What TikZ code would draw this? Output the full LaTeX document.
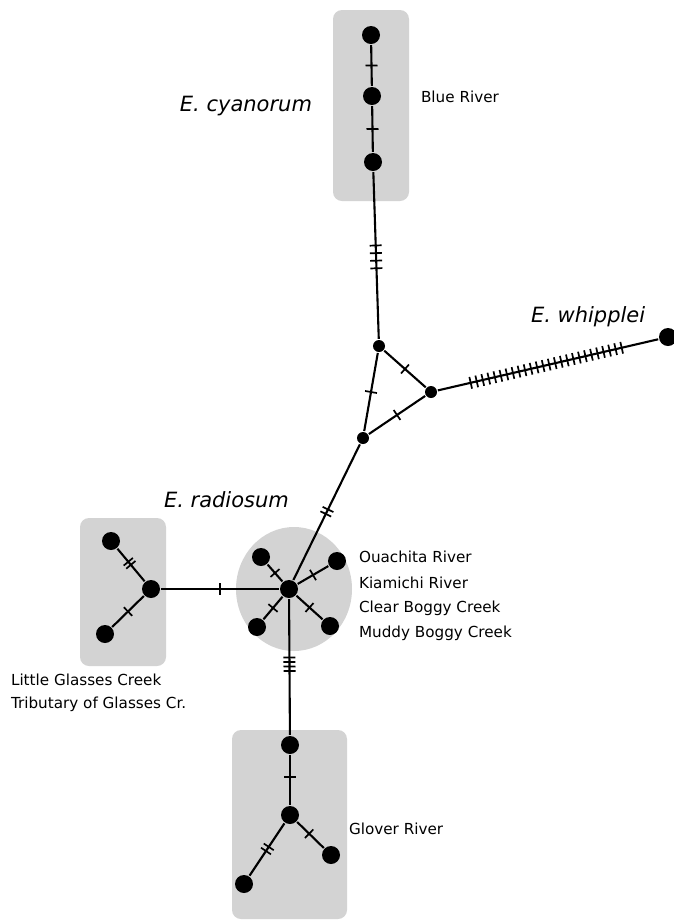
\documentclass[tikz,border=0pt]{standalone}
\usepackage{fontspec}
\setmainfont{DejaVu Sans}
\usetikzlibrary{decorations.markings}
\definecolor{lgray}{RGB}{211,211,211}
\tikzset{hap/.style = {fill, circle, inner sep = 0, minimum size = 18}}
\tikzset{med/.style = {fill, circle, inner sep = 0, minimum size = 12}}
\tikzset{mut/.style = {decoration={markings,
                                   mark=at position #1 with {\draw [line width=1.7] (0,-6pt) -- (0,6pt);}},
                       postaction={decorate}},
         mut/.default = 0.5}
\tikzset{muts/.style n args = {3}{decoration={markings,
                                   mark=between positions #1 and #2 step #3 with {\draw [line width=1.7] (0,-6pt) -- (0,6pt);}},
                       postaction={decorate}}}
\tikzset{site/.style = {font=\fontsize{15.2}{18}\selectfont, anchor=base west, inner sep=0}}
\tikzset{species/.style = {font=\fontsize{21}{25}\selectfont\itshape, anchor=base west, inner sep=0}}

\begin{document}
\begin{tikzpicture}[x=1pt, y=-1pt, line width=2.1]
      \useasboundingbox (0,0) rectangle (674,922);
      % shaded groups
      \fill [lgray, rounded corners=9] (333,10) rectangle (409,201);
      \fill [lgray, rounded corners=9] (80,518) rectangle (166,666);
      \fill [lgray, rounded corners=9] (232,730) rectangle (347,919);
      \fill [lgray] (294,589) ellipse [x radius=58, y radius=62];
      % haplotypes
      \node [hap] (b1) at (371,35) {};
      \node [hap] (b2) at (372,96) {};
      \node [hap] (b3) at (373,162) {};
      \node [med] (t1) at (379,346) {};
      \node [med] (t2) at (431,392) {};
      \node [med] (t3) at (363,438) {};
      \node [hap] (w) at (668,337) {};
      \node [hap] (r0) at (289,589) {};
      \node [hap] (ru1) at (261,557) {};
      \node [hap] (ru2) at (337,561) {};
      \node [hap] (rl1) at (257,627) {};
      \node [hap] (rl2) at (330,626) {};
      \node [hap] (l0) at (151,589) {};
      \node [hap] (l1) at (111,541) {};
      \node [hap] (l2) at (105,634) {};
      \node [hap] (g1) at (290,745) {};
      \node [hap] (g2) at (290,815) {};
      \node [hap] (g3) at (331,855) {};
      \node [hap] (g4) at (244,884) {};
      % links
      \draw [mut] (b1) -- (b2);
      \draw [mut] (b2) -- (b3);
      \draw [muts={0.44}{0.58}{7.6pt}] (b3) -- (t1);
      \draw [mut] (t1) -- (t2);
      \draw [mut] (t2) -- (t3);
      \draw [mut] (t3) -- (t1);
      \draw [muts={0.149}{0.86}{6.2pt}] (t2) -- (w);
      \draw [muts={0.48}{0.53}{5pt}] (t3) -- (r0);
      \draw [mut] (r0) -- (ru1);
      \draw [mut] (r0) -- (ru2);
      \draw [mut] (r0) -- (rl1);
      \draw [mut] (r0) -- (rl2);
      \draw [mut] (r0) -- (l0);
      \draw [muts={0.4}{0.5}{4pt}] (l1) -- (l0);
      \draw [mut] (l0) -- (l2);
      \draw [muts={0.43}{0.53}{4.5pt}] (r0) -- (g1);
      \draw [mut=0.44] (g1) -- (g2);
      \draw [mut=0.45] (g2) -- (g3);
      \draw [muts={0.45}{0.56}{5pt}] (g2) -- (g4);
      % labels
      \node [species, anchor=base east] (cya) at (313,111) {E. cyanorum};
      \node [species] (whi) at (530,322) {E. whipplei};
      \node [species] (rad) at (163,507) {E. radiosum};
      \node [site] (blue) at (420,102) {Blue River};
      \node [site] (oua) at (358,562) {Ouachita River};
      \node [site] (kia) at (358,588) {Kiamichi River};
      \node [site] (cle) at (358,612) {Clear Boggy Creek};
      \node [site] (mud) at (358,637) {Muddy Boggy Creek};
      \node [site] (lit) at (10,685) {Little Glasses Creek};
      \node [site] (tri) at (10,708) {Tributary of Glasses Cr.};
      \node [site] (glo) at (348,834) {Glover River};
    \end{tikzpicture}
\end{document}
